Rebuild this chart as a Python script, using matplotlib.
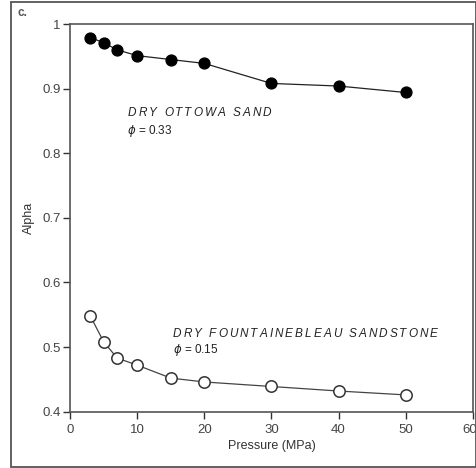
import matplotlib
matplotlib.use("Agg")
import matplotlib.pyplot as plt
from matplotlib.patches import Rectangle
from matplotlib.transforms import offset_copy, ScaledTranslation
from matplotlib.font_manager import FontProperties

plt.rcParams['font.family'] = ['Liberation Sans', 'DejaVu Sans']

# Pressure (MPa) and alpha values for the two dry samples
pressure = [3, 5, 7, 10, 15, 20, 30, 40, 50]
alpha_ottowa = [0.979, 0.971, 0.960, 0.951, 0.945, 0.939, 0.908, 0.904, 0.894]
alpha_fontainebleau = [0.548, 0.508, 0.483, 0.472, 0.452, 0.446, 0.439, 0.432, 0.426]

x_ticks = [0, 10, 20, 30, 40, 50, 60]
y_ticks = [0.4, 0.5, 0.6, 0.7, 0.8, 0.9, 1.0]
y_ticklabels = ["0.4", "0.5", "0.6", "0.7", "0.8", "0.9", "1"]

W, H = 477, 468
fig = plt.figure(figsize=(W / 100, H / 100), dpi=100)

# outer panel frame
fig.patches.append(Rectangle((11 / W, 1.5 / H), (W - 11.5) / W, (H - 3.5) / H,
                             transform=fig.transFigure, fill=False,
                             edgecolor='#555555', linewidth=1.3))

left, right, top, bottom = 70.2, 472.7, 24, 411.7
ax = fig.add_axes([left / W, 1 - bottom / H, (right - left) / W, (bottom - top) / H])

ax.plot(pressure, alpha_ottowa, '-', color='#222222', lw=0.9,
        marker='o', ms=7.8, mfc='black', mec='black', zorder=3)
ax.plot(pressure, alpha_fontainebleau, '-', color='#444444', lw=0.9,
        marker='o', ms=8.2, mfc='white', mec='#333333', mew=1.1, zorder=3)

ax.set_xlim(0, 60)
ax.set_ylim(0.4, 1.0)
ax.set_xticks(x_ticks)
ax.set_yticks(y_ticks)
ax.set_yticklabels(y_ticklabels)
ax.tick_params(direction='out', length=5, width=1, colors='#333333',
               labelsize=9.5, labelcolor='#444444')
ax.tick_params(axis='x', pad=3.5)
ax.tick_params(axis='y', pad=2)
for s in ax.spines.values():
    s.set_color('#555555')
    s.set_linewidth(1.2)

# keep the last x tick label inside the figure edge
last = ax.get_xticklabels()[-1]
last.set_ha('right')
last.set_transform(last.get_transform() + ScaledTranslation(4 / 100, 0, fig.dpi_scale_trans))

ax.set_xlabel('Pressure (MPa)', fontsize=9, color='#333333', labelpad=3.5)
ax.set_ylabel('Alpha', fontsize=9, color='#333333', labelpad=5)


def spaced_text(ax, x, y, s, extra_px, **kw):
    """Draw text character by character with extra letter spacing (pixels)."""
    fig = ax.figure
    renderer = fig.canvas.get_renderer()
    prop = FontProperties(family=plt.rcParams['font.family'],
                          style=kw.get('style', 'normal'),
                          size=kw.get('fontsize', 10))
    dx = 0.0
    for ch in s:
        trans = offset_copy(ax.transData, fig=fig, x=dx, y=0, units='dots')
        ax.text(x, y, ch, transform=trans, **kw)
        w, _, _ = renderer.get_text_width_height_descent(ch, prop, ismath=False)
        dx += w + extra_px


spaced_text(ax, 8.6, 0.862, 'DRY OTTOWA SAND', 2.0, style='italic',
            fontsize=8.5, color='#222222', va='center')
ax.text(8.5, 0.834, r'$\phi$ = 0.33', fontsize=8.5, color='#222222', va='center')
spaced_text(ax, 15.3, 0.520, 'DRY FOUNTAINEBLEAU SANDSTONE', 2.0, style='italic',
            fontsize=8.5, color='#222222', va='center')
ax.text(15.3, 0.496, r'$\phi$ = 0.15', fontsize=8.5, color='#222222', va='center')

fig.text(18 / W, 1 - 12.5 / H, 'c.', fontsize=8.5, fontweight='bold',
         color='#555555', va='center')

fig.savefig('out.png', dpi=100)
